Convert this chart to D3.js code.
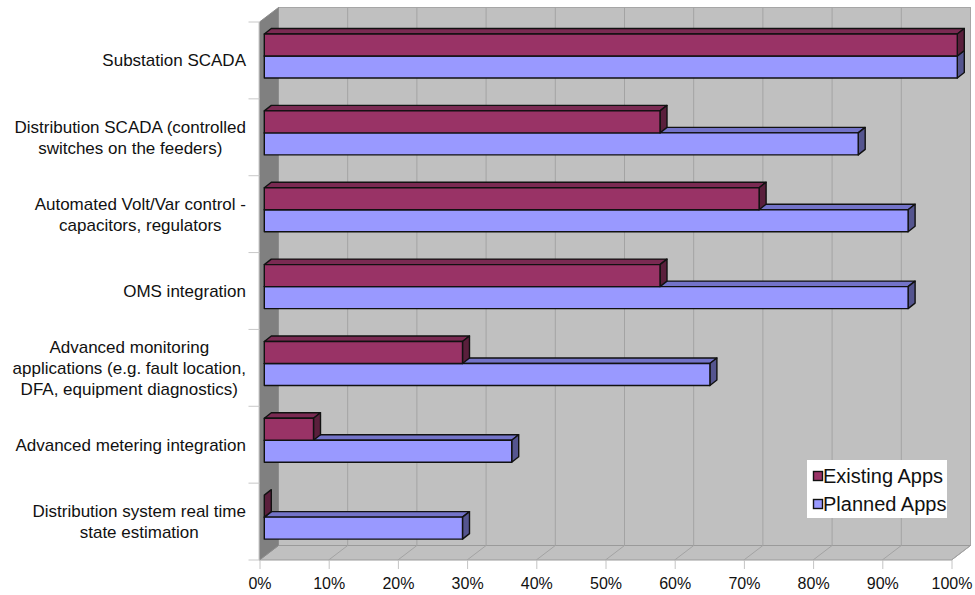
<!DOCTYPE html>
<html>
<head>
<meta charset="utf-8">
<script src="https://cdn.jsdelivr.net/npm/d3@7"></script>
<style>
  html, body { margin: 0; padding: 0; background: #fff; }
  svg { display: block; font-family: "Liberation Sans", Arial, sans-serif; }
</style>
</head>
<body>
<svg id="chart" width="975" height="595"></svg>
<script>
// Share of utilities running each application today vs. planning it (%)
const categories = [
  "Substation SCADA",
  "Distribution SCADA (controlled\nswitches on the feeders)",
  "Automated Volt/Var control -\ncapacitors, regulators",
  "OMS integration",
  "Advanced monitoring\napplications (e.g. fault location,\nDFA, equipment diagnostics)",
  "Advanced metering integration",
  "Distribution system real time\nstate estimation"
];
const existingApps = [100, 57.1, 71.4, 57.1, 28.6, 7.1, 0];
const plannedApps  = [100, 85.7, 92.9, 92.9, 64.3, 35.7, 28.6];
const seriesNames  = ["Existing Apps", "Planned Apps"];
const tickValues   = [0, 10, 20, 30, 40, 50, 60, 70, 80, 90, 100];

const svg = d3.select("#chart");

// 3D box geometry: front plane and the depth offset to the back wall
const DX = 19, DY = 14.5;
const xFront = d3.scaleLinear().domain([0, 100]).range([259.5, 951.5]);
const xBack  = v => xFront(v) + DX;
const yTop = 22, yBottom = 560;
const y = d3.scaleBand().domain(categories).range([yTop, yBottom]);

// bars sit a little behind the front plane
const xBar = d3.scaleLinear().domain([0, 100]).range([264.3, 957.3]);
const BDX = 7, BDY = 5.5, BAR_H = 22, BAR_SHIFT = -4.4;

const colors = {
  existing: { front: "#993366", top: "#7a2a52", side: "#5a1f3c" },
  planned:  { front: "#9999ff", top: "#7373c8", side: "#55558f" }
};

const poly = pts => pts.map(p => p.join(",")).join(" ");

// back wall
svg.append("rect")
  .attr("x", xBack(0)).attr("y", yTop - DY)
  .attr("width", xBack(100) - xBack(0)).attr("height", yBottom - yTop)
  .attr("fill", "#c0c0c0").attr("stroke", "#a6a6a6").attr("stroke-width", 1);

// floor
svg.append("polygon")
  .attr("points", poly([[xFront(0), yBottom], [xBack(0), yBottom - DY], [xBack(100), yBottom - DY], [xFront(100), yBottom]]))
  .attr("fill", "#c0c0c0").attr("stroke", "#9a9a9a").attr("stroke-width", 1);

// gridlines on the wall and across the floor
const grid = svg.append("g").attr("stroke", "#a3a3a3").attr("stroke-width", 1).attr("fill", "none");
grid.selectAll("line.wall").data(tickValues.slice(1, -1)).join("line")
  .attr("class", "wall")
  .attr("x1", d => xBack(d)).attr("x2", d => xBack(d))
  .attr("y1", yTop - DY).attr("y2", yBottom - DY);
grid.selectAll("line.floor").data(tickValues.slice(1)).join("line")
  .attr("class", "floor")
  .attr("x1", d => xBack(d)).attr("x2", d => xFront(d))
  .attr("y1", yBottom - DY).attr("y2", yBottom);

// left side wall
svg.append("polygon")
  .attr("points", poly([[xFront(0), yTop], [xBack(0), yTop - DY], [xBack(0), yBottom - DY], [xFront(0), yBottom]]))
  .attr("fill", "#808080").attr("stroke", "#8c8c8c").attr("stroke-width", 1);

// bottom axis: ticks and percent labels
const xAxis = d3.axisBottom(xFront).tickValues(tickValues).tickSize(9).tickPadding(9)
  .tickFormat(d => d + "%");
const gx = svg.append("g").attr("transform", `translate(0,${yBottom})`).call(xAxis);
gx.select(".domain").remove();
gx.selectAll(".tick line").attr("stroke", "#c4c4c4");
gx.selectAll(".tick text").attr("fill", "#111").attr("font-size", 16)
  .attr("font-family", "'Liberation Sans', Arial, sans-serif");

// category axis tick marks at band boundaries
const bounds = categories.map(c => y(c)).concat([yBottom]);
svg.append("g").selectAll("line").data(bounds).join("line")
  .attr("x1", xFront(0) - 11).attr("x2", xFront(0))
  .attr("y1", d => d).attr("y2", d => d)
  .attr("stroke", "#c8c8c8").attr("stroke-width", 1);
svg.append("line")
  .attr("x1", xFront(0) - 0.5).attr("x2", xFront(0) - 0.5)
  .attr("y1", yTop).attr("y2", yBottom)
  .attr("stroke", "#c8c8c8");

// category labels: centred lines, block right-aligned against the axis
const LINE_H = 21;
const labelRight = 246;
categories.forEach(c => {
  const lines = c.split("\n");
  const cy = y(c) + y.bandwidth() / 2;
  const g = svg.append("g");
  const texts = lines.map((ln, i) => g.append("text")
    .attr("y", cy + (i - (lines.length - 1) / 2) * LINE_H)
    .attr("dy", "0.35em")
    .attr("text-anchor", "middle")
    .attr("font-size", 17).attr("fill", "#111")
    .text(ln));
  const maxW = d3.max(texts, t => t.node().getComputedTextLength());
  texts.forEach(t => t.attr("x", labelRight - maxW / 2));
});

// 3D bar: front face, top face, right side face
function bar(g, value, top, col) {
  const x0 = xBar(0), x1 = xBar(value), b = top + BAR_H;
  const st = { stroke: "#111", "stroke-width": 1.4, "stroke-linejoin": "round" };
  const add = (pts, fill) => {
    const p = g.append("polygon").attr("points", poly(pts)).attr("fill", fill);
    Object.entries(st).forEach(([k, v]) => p.attr(k, v));
  };
  if (x1 > x0) add([[x0, top], [x0 + BDX, top - BDY], [x1 + BDX, top - BDY], [x1, top]], col.top);
  add([[x1, top], [x1 + BDX, top - BDY], [x1 + BDX, b - BDY], [x1, b]], col.side);
  if (x1 > x0) add([[x0, top], [x1, top], [x1, b], [x0, b]], col.front);
}

const bars = svg.append("g");
categories.forEach((c, i) => {
  const mid = y(c) + y.bandwidth() / 2 + BAR_SHIFT;
  bar(bars, plannedApps[i], mid, colors.planned);
  bar(bars, existingApps[i], mid - BAR_H, colors.existing);
});

// legend
const lg = svg.append("g").attr("transform", "translate(807,460)");
lg.append("rect").attr("width", 140).attr("height", 58).attr("fill", "#fff");
const items = [
  { name: seriesNames[0], col: colors.existing.front },
  { name: seriesNames[1], col: colors.planned.front }
];
items.forEach((it, i) => {
  const row = lg.append("g").attr("transform", `translate(0,${16 + i * 28})`);
  row.append("rect").attr("x", 6.5).attr("y", -4.5).attr("width", 9).attr("height", 9)
    .attr("fill", it.col).attr("stroke", "#111").attr("stroke-width", 1.4);
  row.append("text").attr("x", 16).attr("y", 0).attr("dy", "0.35em")
    .attr("font-size", 20).attr("fill", "#111").text(it.name);
});
</script>
</body>
</html>
